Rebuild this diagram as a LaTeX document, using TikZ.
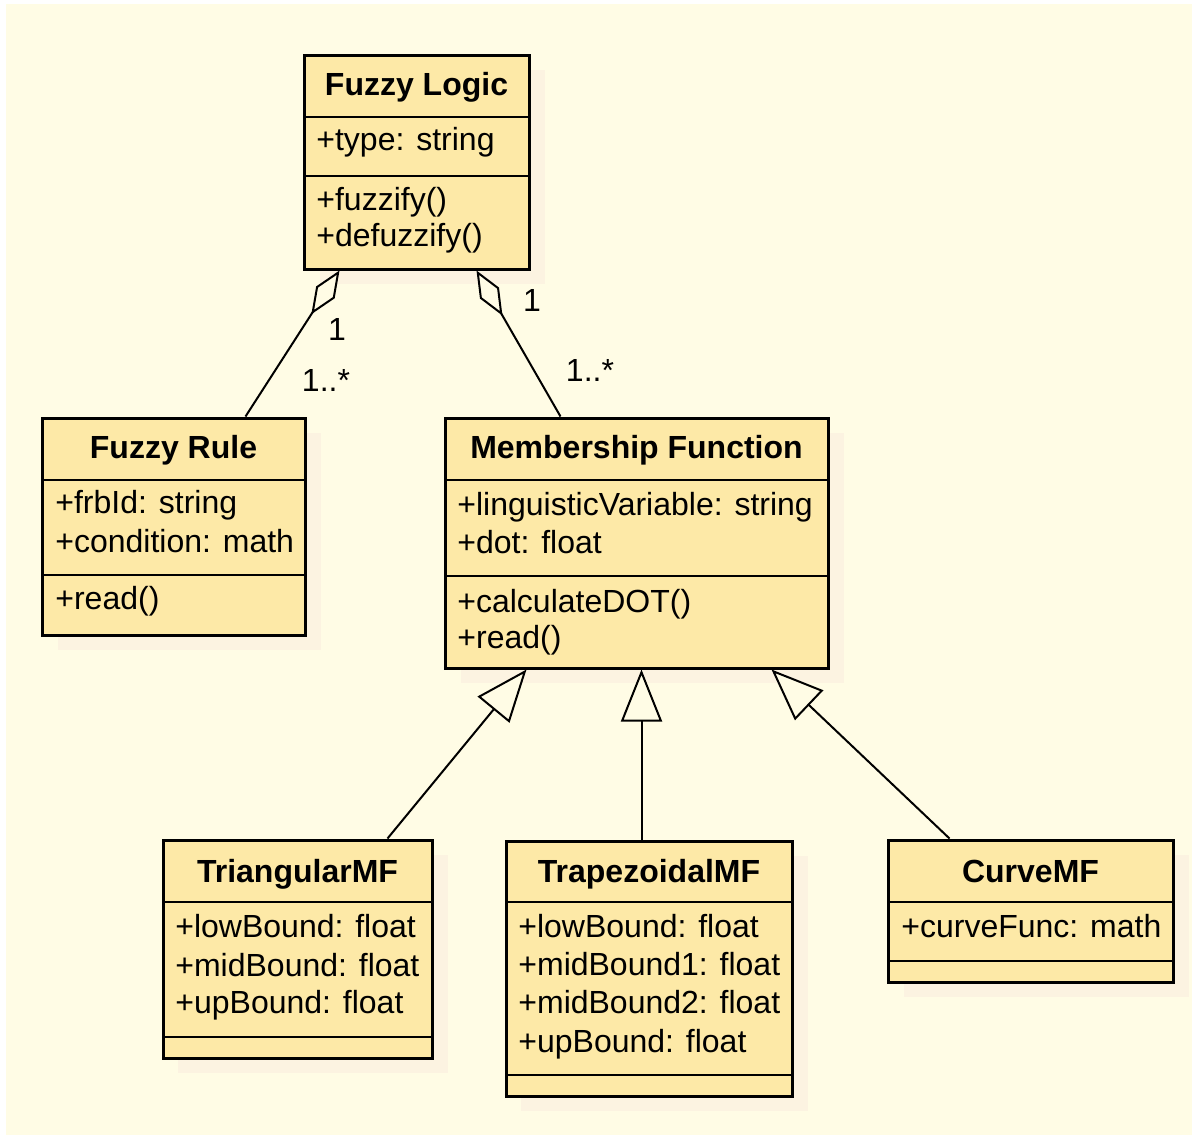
\documentclass[tikz,border=0pt]{standalone}
\usepackage{fontspec}
\setmainfont{Liberation Sans}
\usetikzlibrary{arrows.meta,calc,fit}

\definecolor{bgc}{RGB}{255,252,229}
\definecolor{boxc}{RGB}{253,233,167}
\definecolor{shadowc}{RGB}{252,243,225}

\tikzset{
  classbox/.style={draw=black, line width=1.5pt, fill=boxc, inner sep=0pt},
  shade box/.style={fill=shadowc},
  sepline/.style={line width=1.2pt},
  ttl/.style={font=\fontsize{16pt}{19pt}\selectfont\bfseries, inner sep=0pt, anchor=base},
  attr/.style={font=\fontsize{16pt}{19pt}\selectfont, inner sep=0pt, anchor=base west},
  mult/.style={font=\fontsize{16pt}{19pt}\selectfont, inner sep=0pt},
  aggr/.style={line width=1pt, -{Diamond[length=26pt,width=11pt,fill=bgc]}},
  gen/.style={line width=1pt, -{Triangle[length=26pt,width=20.5pt,fill=bgc]}},
}

\begin{document}
\begin{tikzpicture}[x=0.5pt,y=-0.5pt]
  % canvas
  \useasboundingbox (0,0) rectangle (1198,1135);
  \fill[white] (0,0) rectangle (1198,1135);
  \fill[bgc] (6,4) rectangle (1192,1135);

  % soft shadows behind the classes
  \fill[shade box] (320,70) rectangle (545,284);
  \fill[shade box] (58,433) rectangle (321,650);
  \fill[shade box] (461,433) rectangle (844,683);
  \fill[shade box] (178,855) rectangle (448,1073);
  \fill[shade box] (521,856) rectangle (808,1111);
  \fill[shade box] (904,855) rectangle (1189,997);

  % ---- Fuzzy Logic ----
  \node[classbox, fit={(304,55) (529,269)}] (fl) {};
  \draw[sepline] (304,117) -- (529,117);
  \draw[sepline] (304,176) -- (529,176);
  \node[ttl] (fl-t) at (416.5,95) {Fuzzy Logic};
  \node[attr] (fl-a1) at (316,150) {+type: string};
  \node[attr] (fl-m1) at (316,210) {+fuzzify()};
  \node[attr] (fl-m2) at (316,246) {+defuzzify()};

  % ---- Fuzzy Rule ----
  \node[classbox, fit={(42,418) (305,635)}] (fr) {};
  \draw[sepline] (42,480) -- (305,480);
  \draw[sepline] (42,575) -- (305,575);
  \node[ttl] (fr-t) at (173.5,458) {Fuzzy Rule};
  \node[attr] (fr-a1) at (55,513) {+frbId: string};
  \node[attr] (fr-a2) at (55,552) {+condition: math};
  \node[attr] (fr-m1) at (55,609) {+read()};

  % ---- Membership Function ----
  \node[classbox, fit={(445,418) (828,668)}] (mf) {};
  \draw[sepline] (445,480) -- (828,480);
  \draw[sepline] (445,576) -- (828,576);
  \node[ttl] (mf-t) at (636.5,458) {Membership Function};
  \node[attr] (mf-a1) at (457,515) {+linguisticVariable: string};
  \node[attr] (mf-a2) at (457,553) {+dot: float};
  \node[attr] (mf-m1) at (457,612) {+calculateDOT()};
  \node[attr] (mf-m2) at (457,648) {+read()};

  % ---- TriangularMF ----
  \node[classbox, fit={(163,840) (432,1058)}] (tri) {};
  \draw[sepline] (163,902) -- (432,902);
  \draw[sepline] (163,1037) -- (432,1037);
  \node[ttl] (tri-t) at (297.5,882) {TriangularMF};
  \node[attr] (tri-a1) at (175,937) {+lowBound: float};
  \node[attr] (tri-a2) at (175,976) {+midBound: float};
  \node[attr] (tri-a3) at (175,1013) {+upBound: float};

  % ---- TrapezoidalMF ----
  \node[classbox, fit={(506,841) (792,1096)}] (trap) {};
  \draw[sepline] (506,902) -- (792,902);
  \draw[sepline] (506,1075) -- (792,1075);
  \node[ttl] (trap-t) at (649,882) {TrapezoidalMF};
  \node[attr] (trap-a1) at (518,937) {+lowBound: float};
  \node[attr] (trap-a2) at (518,975) {+midBound1: float};
  \node[attr] (trap-a3) at (518,1013) {+midBound2: float};
  \node[attr] (trap-a4) at (518,1052) {+upBound: float};

  % ---- CurveMF ----
  \node[classbox, fit={(888,840) (1173,982)}] (cmf) {};
  \draw[sepline] (888,902) -- (1173,902);
  \draw[sepline] (888,961) -- (1173,961);
  \node[ttl] (cmf-t) at (1030.5,882) {CurveMF};
  \node[attr] (cmf-a1) at (901,937) {+curveFunc: math};

  % ---- aggregations ----
  \draw[aggr] ($(fr.north west)+(205,0)$) -- ($(fl.south west)+(37,0)$);
  \draw[aggr] ($(mf.north west)+(117,0)$) -- ($(fl.south west)+(174,0)$);
  \node[mult] (m1) at (337,329) {1};
  \node[mult] (m2) at (326,380) {1..*};
  \node[mult] (m3) at (532,300) {1};
  \node[mult] (m4) at (590,370) {1..*};

  % ---- generalizations ----
  \draw[gen] ($(tri.north west)+(226,0)$) -- ($(mf.south west)+(83,0)$);
  \draw[gen] ($(trap.north west)+(137,0)$) -- ($(mf.south west)+(198,0)$);
  \draw[gen] ($(cmf.north west)+(63,0)$) -- ($(mf.south west)+(328,0)$);
\end{tikzpicture}
\end{document}
